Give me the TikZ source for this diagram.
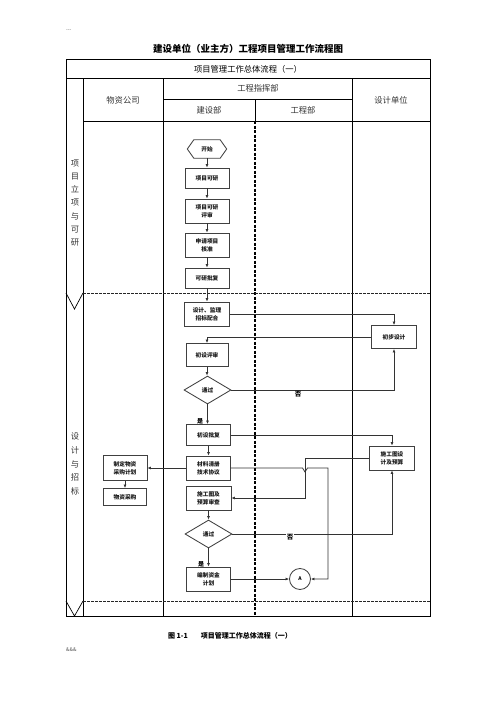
\documentclass[tikz,border=0pt]{standalone}
\usepackage{fontspec}
\setmainfont{Noto Sans CJK SC}
\usetikzlibrary{shapes.geometric,arrows.meta}
\tikzset{
  grid/.style={draw=black, line width=0.9pt},
  dashgrid/.style={draw=black!85, line width=0.8pt, dash pattern=on 2.5pt off 1.5pt},
  dashv/.style={draw=black, line width=1.3pt, dash pattern=on 3pt off 1.5pt},
  box/.style={draw=black!75, line width=0.85pt, fill=white, minimum width=44pt, minimum height=23pt, inner sep=0pt, align=center, font=\bfseries\fontsize{5.7}{8}\selectfont, text=black!90},
  dec/.style={diamond, draw=black!75, line width=0.85pt, fill=white, minimum width=47pt, minimum height=28pt, inner sep=0pt, font=\bfseries\fontsize{5.7}{8}\selectfont, text=black!90},
  conn/.style={draw=black!80, line width=0.75pt, -{Latex[length=3.5pt,width=3pt]}},
  lbl/.style={inner sep=0.5pt, font=\bfseries\fontsize{6}{7}\selectfont},
  hdr/.style={inner sep=0pt, font=\fontsize{8.3}{10}\selectfont, text=black!80},
}
\begin{document}
\begin{tikzpicture}[x=1pt,y=-1pt]
\useasboundingbox (0,0) rectangle (496,702);
% top marks
\node[anchor=west, inner sep=0pt, font=\fontsize{5}{6}\selectfont, text=black!60] (dash) at (66,31) {{-}{-}{-}};
\node[inner sep=0pt, font=\bfseries\fontsize{9.5}{11}\selectfont] (title) at (248,49) {建设单位（业主方）工程项目管理工作流程图};
% grid
\draw[grid] (66,59) rectangle (430,616);
\draw[grid] (66,78) -- (430,78);
\draw[grid] (83,78) -- (83,616);
\draw[grid] (163,78) -- (163,616);
\draw[grid] (352,78) -- (352,616);
\draw[grid] (163,99) -- (352,99);
\draw[grid] (83,121) -- (430,121);
\draw[grid] (255,99) -- (255,121);
\draw[dashv] (255,121) -- (255,616);
\draw[dashgrid] (83,293) -- (430,293);
\draw[dashgrid] (83,601) -- (430,601);
\draw[draw=black, line width=0.7pt] (66,293) -- (74.5,309) -- (83,293);
\draw[draw=black, line width=0.7pt] (66,601) -- (74.5,616) -- (83,601);
% headers
\node[hdr, text=black] (rowt) at (248,69) {项目管理工作总体流程（一）};
\node[hdr] (h1) at (123,100) {物资公司};
\node[hdr] (h2) at (258,88) {工程指挥部};
\node[hdr] (h3) at (209,110) {建设部};
\node[hdr] (h4) at (303,110) {工程部};
\node[hdr] (h5) at (391,100) {设计单位};
\node[hdr, align=center, font=\fontsize{8.3}{13.3}\selectfont] (p1) at (75,203) {项\\目\\立\\项\\与\\可\\研};
\node[hdr, align=center, font=\fontsize{8.3}{13.6}\selectfont] (p2) at (75,464) {设\\计\\与\\招\\标};
% start hexagon
\node[inner sep=0pt, minimum width=39pt, minimum height=18pt, font=\bfseries\fontsize{5.7}{8}\selectfont, text=black!90] (start) at (207,149) {开始};
\draw[draw=black!75, line width=0.85pt] (start.west) -- ([xshift=6.5pt]start.north west) -- ([xshift=-6.5pt]start.north east) -- (start.east) -- ([xshift=-6.5pt]start.south east) -- ([xshift=6.5pt]start.south west) -- cycle;
% boxes
\node[box, minimum height=20pt] (k1) at (207,178) {项目可研};
\node[box, minimum height=24pt] (k2) at (207,211) {项目可研\\评审};
\node[box, minimum height=24pt] (k3) at (207,245) {申请项目\\核准};
\node[box, minimum height=20pt] (k4) at (207,278) {可研批复};
\node[box, minimum height=24pt, minimum width=45pt] (d1) at (207,314) {设计、监理\\招标配合};
\node[box, minimum width=45pt] (cs) at (394,337) {初步设计};
\node[box, minimum width=42pt] (ps) at (207,355) {初设评审};
\node[dec] (dec1) at (207.5,390) {通过};
\node[box, minimum height=21pt] (pf) at (208.5,435) {初设批复};
\node[box, minimum width=45pt, minimum height=24pt] (sg) at (392,458) {施工图设\\计及预算};
\node[box, minimum height=24pt] (mat) at (208.5,468) {材料清册\\技术协议};
\node[box, minimum height=25pt] (buy) at (125,468) {制定物资\\采购计划};
\node[box, minimum width=43pt, minimum height=17pt] (purch) at (125,497) {物资采购};
\node[box, minimum width=45pt, minimum height=24pt] (rev) at (208.5,498) {施工图及\\预算审查};
\node[dec] (dec2) at (208.5,534) {通过};
\node[box, minimum height=24pt] (fund) at (208.5,579) {编制资金\\计划};
\node[circle, draw=black!75, line width=0.85pt, fill=white, minimum size=21pt, inner sep=0pt, font=\bfseries\fontsize{5}{6}\selectfont] (A) at (300,579) {\raisebox{-2pt}{A}};
\coordinate (jx) at (305,0);
\coordinate (kx) at (328,0);
% connectors
\draw[conn] (start.south) -- (k1.north);
\draw[conn] (k1.south) -- (k2.north);
\draw[conn] (k2.south) -- (k3.north);
\draw[conn] (k3.south) -- (k4.north);
\draw[conn] (k4.south) -- (d1.north);
\draw[conn] (d1.east) -| (cs.north);
\draw[conn] (cs.west) -| (ps.north);
\draw[conn] (ps.south) -- (ps.south |- dec1.north);
\draw[conn] (dec1.east) -| (cs.south);
\draw[conn] (dec1.south) -- (dec1.south |- pf.north);
\draw[conn] (pf.east) -| (sg.north);
\draw[conn] (pf.south) -- (mat.north);
\draw[conn] (mat.west) -- (buy.east);
\draw[conn] (buy.south) -- (purch.north);
\draw[conn] (sg.west) -| (jx |- rev.east) -- (rev.east);
\draw[conn] (mat.east) -- ([xshift=-2.5pt]jx |- mat.east) -- ([yshift=-4pt]jx |- mat.east) -- ([xshift=2.5pt]jx |- mat.east) -- (kx |- mat.east) |- (A.east);
\draw[conn] (rev.south) -- (dec2.north);
\draw[conn] (dec2.east) -| (sg.south);
\draw[conn] (dec2.south) -- (fund.north);
\draw[conn] (fund.east) -- (A.west);
% labels
\node[lbl, fill=white, font=\bfseries\fontsize{6.5}{7}\selectfont] (no1) at (298,394) {否};
\node[lbl, fill=white, font=\bfseries\fontsize{6.5}{7}\selectfont] (no2) at (290,537) {否};
\node[lbl] (yes1) at (200,421) {是};
\node[lbl] (yes2) at (201,564) {是};
% caption
\node[inner sep=0pt, font=\bfseries\fontsize{7}{8}\selectfont] (cap) at (230,636) {图 1-1\hspace{13pt}项目管理工作总体流程（一）};
\node[anchor=west, inner sep=0pt, font=\fontsize{5}{6}\selectfont, text=black!70] (amp) at (66,650) {\&\&\&};
\end{tikzpicture}
\end{document}
